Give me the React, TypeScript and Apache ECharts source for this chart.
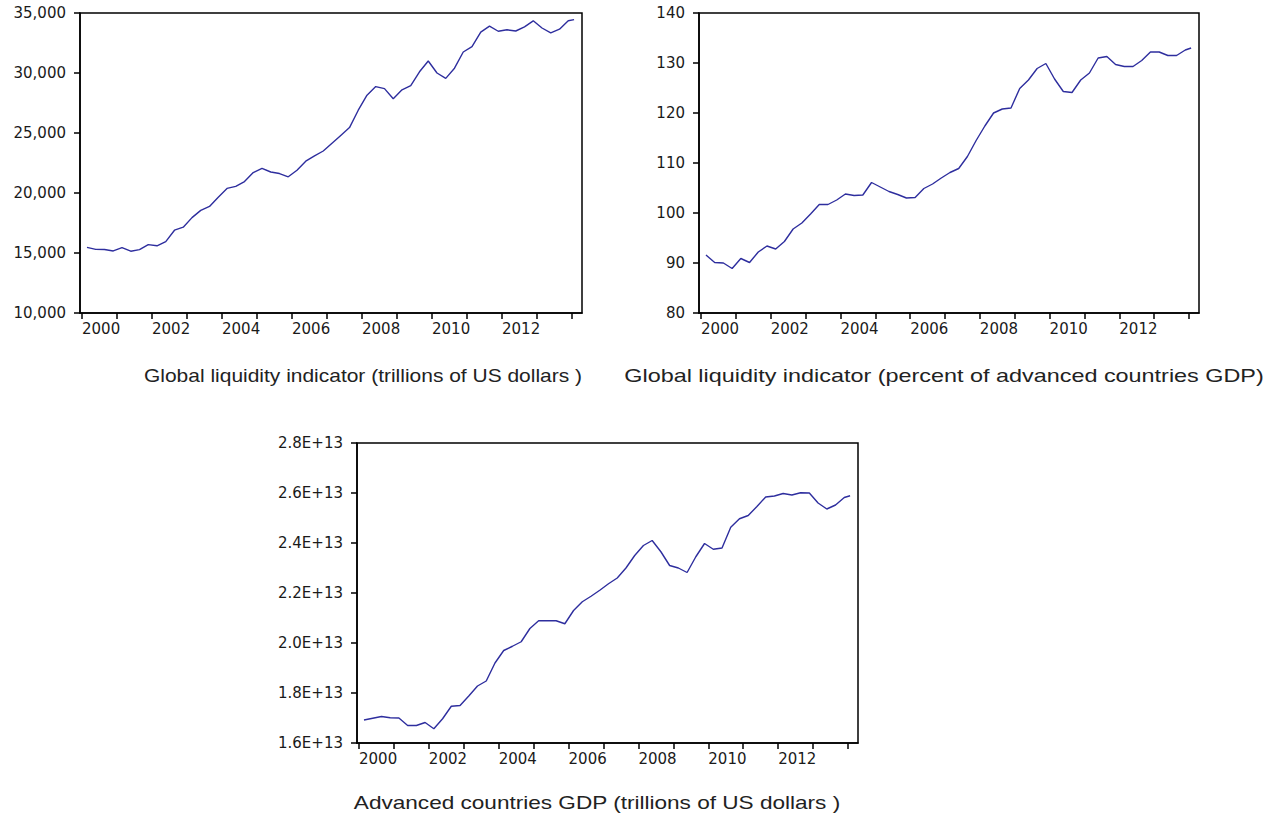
import React, { useEffect, useRef } from "react";
import * as echarts from "echarts";

// Quarterly observations (Jan, Apr, Jul, Oct) 2000–2013, plus Dec 2013
const DATES: string[] = [];
for (let y = 2000; y <= 2013; y++) {
  for (const m of [1, 4, 7, 10]) DATES.push(`${y}-${String(m).padStart(2, "0")}`);
}
DATES.push("2013-12");

// Global liquidity indicator (trillions of US dollars) – axis shows 10,000..35,000
const LIQ_LEVEL = [
  15470, 15300, 15290, 15170,
  15450, 15150, 15280, 15700,
  15600, 15950, 16900, 17150,
  17950, 18550, 18880, 19650,
  20380, 20550, 20950, 21700,
  22050, 21750, 21620, 21350,
  21900, 22650, 23100, 23500,
  24150, 24800, 25450, 26900,
  28150, 28870, 28700, 27850,
  28600, 28950, 30100, 31000,
  30000, 29550, 30400, 31750,
  32200, 33400, 33900, 33480,
  33600, 33500, 33850, 34350,
  33750, 33350, 33650, 34350, 34450,
];

// Global liquidity indicator (percent of advanced countries GDP)
const LIQ_PCT = [
  91.6, 90.1, 90.0, 88.9,
  90.9, 90.1, 92.2, 93.4,
  92.8, 94.3, 96.8, 98.0,
  99.8, 101.7, 101.7, 102.6,
  103.8, 103.5, 103.6, 106.1,
  105.2, 104.3, 103.7, 103.0,
  103.1, 104.9, 105.8, 107.0,
  108.1, 108.9, 111.3, 114.5,
  117.4, 120.0, 120.8, 121.0,
  124.9, 126.6, 128.9, 129.9,
  126.8, 124.3, 124.1, 126.6,
  128.0, 131.0, 131.3, 129.7,
  129.3, 129.3, 130.5, 132.2,
  132.2, 131.5, 131.5, 132.6, 133.0,
];

// Advanced countries GDP (trillions of US dollars)
const GDP_TRILLIONS = [
  16.92, 16.99, 17.06, 17.01,
  17.0, 16.7, 16.7, 16.82,
  16.57, 16.97, 17.47, 17.5,
  17.88, 18.28, 18.48, 19.2,
  19.7, 19.87, 20.05, 20.58,
  20.89, 20.89, 20.89, 20.77,
  21.3, 21.65, 21.87, 22.11,
  22.37, 22.6, 23.0, 23.5,
  23.9, 24.1, 23.65, 23.1,
  23.0, 22.82, 23.45, 23.98,
  23.75, 23.8, 24.63, 24.97,
  25.1, 25.46, 25.84, 25.88,
  25.98, 25.92, 26.01, 26.0,
  25.6, 25.36, 25.52, 25.82, 25.89,
];

const TICK_YEARS = [2000, 2001, 2002, 2003, 2004, 2005, 2006, 2007, 2008, 2009, 2010, 2011, 2012, 2013, 2014];
const LABEL_YEARS = [2000, 2002, 2004, 2006, 2008, 2010, 2012];

const TITLES = [
  "Global liquidity indicator (trillions of US dollars )",
  "Global liquidity indicator (percent of advanced countries GDP)",
  "Advanced countries GDP (trillions of US dollars )",
];

// EViews draws each year tick slightly before the first observation of the year
const TICK_SHIFT = 1 / 7;
const toYear = (s: string) => {
  const [y, m] = s.split("-").map(Number);
  return y + (m - 1) / 12;
};

const LABEL_FONT = "DejaVu Sans";
const LINE_COLOR = "#2e2e9e";

function xAxis(gridIndex: number) {
  return {
    type: "value",
    gridIndex,
    min: 1999.8,
    max: 2014.143,
    axisLine: { show: true, onZero: false, lineStyle: { color: "#000", width: 1.5 } },
    axisTick: {
      show: true,
      inside: false,
      length: 6,
      lineStyle: { color: "#000", width: 1.5 },
      customValues: TICK_YEARS.map((y) => y - TICK_SHIFT),
    },
    axisLabel: {
      customValues: LABEL_YEARS.map((y) => y - TICK_SHIFT),
      formatter: (v: number) => String(Math.round(v + TICK_SHIFT)),
      align: "left",
      margin: 8,
      fontFamily: LABEL_FONT,
      fontSize: 15,
      color: "#1a1a1a",
    },
    splitLine: { show: false },
  };
}

function yAxis(gridIndex: number, min: number, max: number, interval: number, formatter?: (v: number) => string) {
  return {
    type: "value",
    gridIndex,
    min,
    max,
    interval,
    axisLine: { show: true, lineStyle: { color: "#000", width: 1.5 } },
    axisTick: { show: true, inside: false, length: 6, lineStyle: { color: "#000", width: 1.5 } },
    axisLabel: {
      margin: 14,
      fontFamily: LABEL_FONT,
      fontSize: 15,
      color: "#1a1a1a",
      ...(formatter ? { formatter } : {}),
    },
    splitLine: { show: false },
  };
}

function series(idx: number, values: number[], scale = 1) {
  return {
    type: "line",
    xAxisIndex: idx,
    yAxisIndex: idx,
    showSymbol: false,
    symbol: "none",
    lineStyle: { color: LINE_COLOR, width: 1.4 },
    data: DATES.map((d, i) => [toYear(d), values[i] * scale]),
  };
}

function title(text: string, cx: number, cy: number, scaleX: number) {
  return {
    type: "text",
    x: cx,
    y: cy,
    scaleX,
    style: {
      text,
      font: '18px "Liberation Sans", Arial, sans-serif',
      fill: "#222",
      textAlign: "center",
      textVerticalAlign: "middle",
    },
  };
}

export default function App() {
  const ref = useRef<HTMLDivElement>(null);
  useEffect(() => {
    if (!ref.current) return;
    const chart = echarts.init(ref.current, undefined, { renderer: "svg" });
    const gridBase = { show: true, borderColor: "#000", borderWidth: 1.5, backgroundColor: "#fff", containLabel: false };
    chart.setOption({
      animation: false,
      backgroundColor: "#fff",
      grid: [
        { ...gridBase, left: 80, top: 13, width: 502, height: 300 },
        { ...gridBase, left: 699, top: 13, width: 500, height: 300 },
        { ...gridBase, left: 357, top: 443, width: 501, height: 300 },
      ],
      xAxis: [xAxis(0), xAxis(1), xAxis(2)],
      yAxis: [
        yAxis(0, 10000, 35000, 5000),
        yAxis(1, 80, 140, 10),
        yAxis(2, 1.6e13, 2.8e13, 0.2e13, (v: number) => (v / 1e13).toFixed(1) + "E+13"),
      ],
      series: [series(0, LIQ_LEVEL), series(1, LIQ_PCT), series(2, GDP_TRILLIONS, 1e12)],
      graphic: [
        title(TITLES[0], 363, 376, 1.165),
        title(TITLES[1], 944, 376, 1.3),
        title(TITLES[2], 597, 803, 1.255),
      ],
    });
    return () => chart.dispose();
  }, []);
  return (
    <div
      ref={ref}
      style={{ position: "fixed", left: 0, top: 0, width: 1278, height: 819, background: "#fff" }}
    />
  );
}
